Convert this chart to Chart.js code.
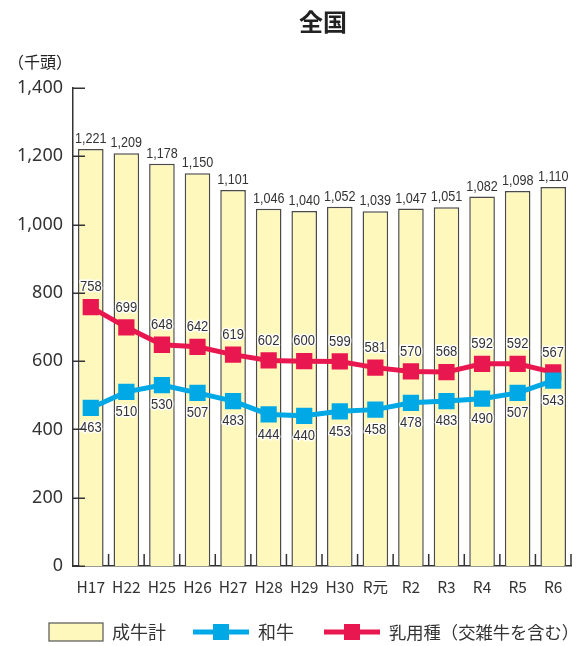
<!DOCTYPE html>
<html>
<head>
<meta charset="utf-8">
<script src="https://cdn.jsdelivr.net/npm/chart.js@4.4.1/dist/chart.umd.min.js"></script>
<style>
  html, body { margin: 0; padding: 0; background: #fff; }
  #wrap { width: 583px; height: 646px; }
</style>
</head>
<body>
<div id="wrap"><canvas id="chart" width="583" height="646"></canvas></div>
<script>
// 年次
const categories = ["H17", "H22", "H25", "H26", "H27", "H28", "H29", "H30", "R元", "R2", "R3", "R4", "R5", "R6"];
// 成牛計（千頭）
const totalCattle = [1221, 1209, 1178, 1150, 1101, 1046, 1040, 1052, 1039, 1047, 1051, 1082, 1098, 1110];
// 和牛
const wagyu = [463, 510, 530, 507, 483, 444, 440, 453, 458, 478, 483, 490, 507, 543];
// 乳用種（交雑牛を含む）
const dairy = [758, 699, 648, 642, 619, 602, 600, 599, 581, 570, 568, 592, 592, 567];
const yTicks = [0, 200, 400, 600, 800, 1000, 1200, 1400];

const FONT = '"Noto Sans", "Noto Sans CJK JP", sans-serif';
const JP = '"Noto Sans CJK JP", "Noto Sans", sans-serif';
const BAR_FILL = "#FFF8BD";
const BAR_EDGE = "#4a4a4a";
const BLUE = "#00A8E6";
const RED = "#E9174F";

// 数値ラベル（細い字体で描く）
function narrowText(ctx, txt, x, y, size, baseline) {
  ctx.save();
  ctx.translate(x, y);
  ctx.scale(0.84, 1);
  ctx.font = size + 'px "Liberation Sans Narrow", "Liberation Sans", sans-serif';
  ctx.textAlign = "center";
  ctx.textBaseline = baseline;
  ctx.lineJoin = "round";
  ctx.strokeStyle = "#fff";
  ctx.lineWidth = 3;
  ctx.strokeText(txt, 0, 0);
  ctx.fillStyle = "#333";
  ctx.fillText(txt, 0, 0);
  ctx.restore();
}

const labelPlugin = {
  id: "labels",
  afterDatasetsDraw(chart) {
    const ctx = chart.ctx;
    chart.data.datasets.forEach((ds, i) => {
      const meta = chart.getDatasetMeta(i);
      meta.data.forEach((el, j) => {
        const v = ds.data[j];
        const txt = v >= 1000 ? v.toLocaleString("en-US") : String(v);
        if (ds.type === "bar") {
          narrowText(ctx, txt, el.x, el.y - 6, 15, "alphabetic");
        } else if (ds.label === "和牛") {
          narrowText(ctx, txt, el.x, el.y + 20, 15.5, "middle");
        } else {
          narrowText(ctx, txt, el.x, el.y - 20, 15.5, "middle");
        }
      });
    });
  }
};

const decoPlugin = {
  id: "deco",
  afterDraw(chart) {
    const ctx = chart.ctx;
    const a = chart.chartArea;
    const xs = chart.scales.x;
    const ys = chart.scales.y;
    ctx.save();
    // 目盛り（内向き）
    ctx.strokeStyle = "#333";
    ctx.lineWidth = 1.5;
    yTicks.forEach(v => {
      const py = Math.round(ys.getPixelForValue(v)) + 0.25;
      ctx.beginPath();
      ctx.moveTo(a.left, py);
      ctx.lineTo(a.left + 12, py);
      ctx.stroke();
    });
    for (let i = 0; i < categories.length; i++) {
      const bx = i < categories.length - 1
        ? (xs.getPixelForTick(i) + xs.getPixelForTick(i + 1)) / 2
        : a.right;
      ctx.beginPath();
      ctx.moveTo(bx, a.bottom);
      ctx.lineTo(bx, a.bottom - 12);
      ctx.stroke();
    }
    // タイトル・単位
    ctx.fillStyle = "#222";
    ctx.textAlign = "center";
    ctx.textBaseline = "middle";
    ctx.font = "bold 24px " + JP;
    ctx.fillText("全国", 323, 22);
    ctx.textAlign = "left";
    ctx.font = "16px " + JP;
    ctx.fillText("（千頭）", 8, 62);

    // 凡例
    const ly = 632;
    ctx.fillStyle = BAR_FILL;
    ctx.fillRect(49, 623, 54, 18);
    ctx.strokeStyle = "#555";
    ctx.lineWidth = 1.2;
    ctx.strokeRect(49, 623, 54, 18);
    ctx.fillStyle = "#333";
    ctx.font = "18px " + JP;
    ctx.fillText("成牛計", 112, ly);

    [[193, BLUE, "和牛"], [324, RED, "乳用種（交雑牛を含む）"]].forEach(([x0, col, txt]) => {
      ctx.strokeStyle = col;
      ctx.lineWidth = 5;
      ctx.beginPath();
      ctx.moveTo(x0, ly);
      ctx.lineTo(x0 + 56, ly);
      ctx.stroke();
      ctx.fillStyle = col;
      ctx.fillRect(x0 + 20, ly - 8, 16, 16);
      ctx.fillStyle = "#333";
      ctx.font = (txt.length > 3 ? "17.3px " : "18px ") + JP;
      ctx.fillText(txt, x0 + 65, ly);
    });
    ctx.restore();
  }
};

new Chart(document.getElementById("chart"), {
  data: {
    labels: categories,
    datasets: [
      {
        type: "line",
        label: "和牛",
        data: wagyu,
        order: 0,
        borderColor: BLUE,
        backgroundColor: BLUE,
        borderWidth: 5,
        pointStyle: "rect",
        pointRadius: 11.5,
        pointBorderWidth: 0,
        pointBackgroundColor: BLUE,
        tension: 0
      },
      {
        type: "line",
        label: "乳用種（交雑牛を含む）",
        data: dairy,
        order: 1,
        borderColor: RED,
        backgroundColor: RED,
        borderWidth: 5,
        pointStyle: "rect",
        pointRadius: 11.5,
        pointBorderWidth: 0,
        pointBackgroundColor: RED,
        tension: 0
      },
      {
        type: "bar",
        label: "成牛計",
        data: totalCattle,
        order: 2,
        backgroundColor: BAR_FILL,
        borderColor: BAR_EDGE,
        borderWidth: { top: 1.5, left: 1.5, right: 1.5, bottom: 0 },
        barPercentage: 0.72,
        categoryPercentage: 1
      }
    ]
  },
  options: {
    responsive: false,
    animation: false,
    layout: { padding: { left: 0, top: 88, right: 12, bottom: 0 } },
    plugins: {
      legend: { display: false },
      tooltip: { enabled: false },
      title: { display: false }
    },
    scales: {
      x: {
        offset: true,
        grid: { display: false, drawTicks: false },
        border: { display: true, color: "#333", width: 1.5 },
        ticks: { color: "#333", font: { family: JP, size: 15.5 }, padding: 12, maxRotation: 0, autoSkip: false },
        afterFit(scale) { scale.height = 80; }
      },
      y: {
        min: 0,
        max: 1400,
        grid: { display: false, drawTicks: false },
        border: { display: true, color: "#333", width: 1.5 },
        ticks: {
          stepSize: 200,
          color: "#333",
          font: { family: FONT, size: 18 },
          padding: 10,
          callback: v => v.toLocaleString("en-US")
        },
        afterFit(scale) { scale.width = 73; }
      }
    }
  },
  plugins: [labelPlugin, decoPlugin]
});
</script>
</body>
</html>
